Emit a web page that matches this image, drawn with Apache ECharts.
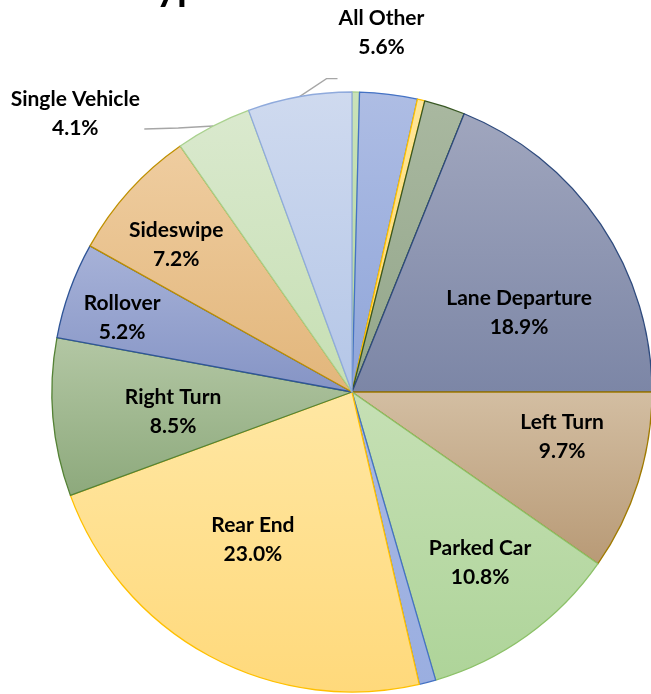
<!DOCTYPE html>
<html>
<head>
<meta charset="utf-8">
<script src="https://cdn.jsdelivr.net/npm/echarts@6/dist/echarts.min.js"></script>
<style>
  html, body { margin: 0; padding: 0; background: #fff; }
  #chart { width: 651px; height: 694px; }
</style>
</head>
<body>
<div id="chart"></div>
<script>
// crash types, clockwise from 12 o'clock
const categories = ['Head On', 'Angle', 'Backing', 'Pedestrian', 'Lane Departure', 'Left Turn', 'Parked Car',
  'Bicycle', 'Rear End', 'Right Turn', 'Rollover', 'Sideswipe', 'Single Vehicle', 'All Other']
const shares = [0.4, 3.1, 0.4, 2.2, 18.9, 9.7, 10.8, 0.9, 23.0, 8.5, 5.2, 7.2, 4.1, 5.6]
const hiddenLabels = ['Head On', 'Angle', 'Backing', 'Pedestrian', 'Bicycle']
const outsideLabels = ['Single Vehicle', 'All Other']

// fill gradient top, bottom, border
const colors = [
  ['#C9E2B8', '#B5D79F', '#A9D18E'],
  ['#AEBDE4', '#8FA5D9', '#4472C4'],
  ['#FFE699', '#FFD966', '#FFC000'],
  ['#A9B8A0', '#93A68A', '#385723'],
  ['#A0A6BE', '#7C86A6', '#2E4A7D'],
  ['#D3BEA2', '#B89A76', '#A07A00'],
  ['#C6E0B5', '#AED499', '#8CC168'],
  ['#A9B9E4', '#9AAEE0', '#4472C4'],
  ['#FFE7A3', '#FFD97B', '#FFC000'],
  ['#B3C7A4', '#8DA97C', '#548235'],
  ['#A7B2D8', '#8594C5', '#2F5597'],
  ['#EFCDA0', '#E2B67B', '#BF9000'],
  ['#DAE9CE', '#C6DFB3', '#A9D18E'],
  ['#CFDAEF', '#B4C6E7', '#8FAADC']
]

const cx = 352
const cy = 392
const R = 300

// inside label placement: [angle shift in degrees, fraction of radius]
const insidePlace = {
  'Lane Departure': [8.7, 0.616],
  'Left Turn': [-5.4, 0.716],
  'Parked Car': [-1.2, 0.712],
  'Rear End': [5.4, 0.593],
  'Right Turn': [-1.5, 0.6],
  'Rollover': [-2, 0.805],
  'Sideswipe': [-2.2, 0.764]
}

function midAngle(i) {
  let before = 0
  for (let j = 0; j < i; j++) before += shares[j]
  const total = shares.reduce((a, b) => a + b, 0)
  return (before + shares[i] / 2) / total * 360
}
function polar(deg, dist) {
  const a = deg * Math.PI / 180
  return [cx + dist * Math.sin(a), cy - dist * Math.cos(a)]
}

const pieData = categories.map((name, i) => {
  const item = {
    name: name,
    value: shares[i],
    itemStyle: {
      color: new echarts.graphic.LinearGradient(0, 0, 0, 1, [
        { offset: 0, color: colors[i][0] },
        { offset: 1, color: colors[i][1] }
      ]),
      borderColor: colors[i][2],
      borderWidth: 1.3
    }
  }
  if (hiddenLabels.indexOf(name) >= 0) {
    item.label = { show: false }
    item.labelLine = { show: false }
  } else if (outsideLabels.indexOf(name) >= 0) {
    item.label = { position: 'outside' }
    item.labelLine = { show: true }
  }
  return item
})

const chart = echarts.init(document.getElementById('chart'))
chart.setOption({
  animation: false,
  backgroundColor: '#fff',
  graphic: [{
    type: 'text',
    style: {
      text: 'Crash Type',
      x: 24,
      y: -13,
      font: 'bold 40px Lato',
      fill: '#000',
      align: 'left',
      verticalAlign: 'middle'
    }
  }],
  series: [{
    type: 'pie',
    center: [cx, cy],
    radius: R,
    startAngle: 90,
    clockwise: true,
    avoidLabelOverlap: false,
    data: pieData,
    label: {
      show: true,
      position: 'inside',
      formatter: p => p.name + '\n' + p.value.toFixed(1) + '%',
      fontFamily: 'Lato',
      fontWeight: 'bold',
      fontSize: 21,
      lineHeight: 29,
      color: '#000'
    },
    labelLine: {
      show: false,
      lineStyle: { color: '#A6A6A6', width: 1.3 }
    },
    labelLayout: function (params) {
      const i = params.dataIndex
      const name = categories[i]
      const mid = midAngle(i)
      if (insidePlace[name]) {
        const p = polar(mid + insidePlace[name][0], insidePlace[name][1] * R)
        return { x: p[0], y: p[1], align: 'center', verticalAlign: 'middle' }
      }
      const e = polar(mid, R)
      if (name === 'Single Vehicle') {
        return {
          x: e[0] - 138, y: e[1] - 12, align: 'center', verticalAlign: 'middle',
          labelLinePoints: [e, [e[0] - 35, e[1] + 2], [e[0] - 69, e[1] + 3]]
        }
      }
      if (name === 'All Other') {
        return {
          x: e[0] + 82, y: e[1] - 64, align: 'center', verticalAlign: 'middle',
          labelLinePoints: [e, [e[0] + 27, e[1] - 18], [e[0] + 38, e[1] - 18]]
        }
      }
      return {}
    }
  }]
})
</script>
</body>
</html>
